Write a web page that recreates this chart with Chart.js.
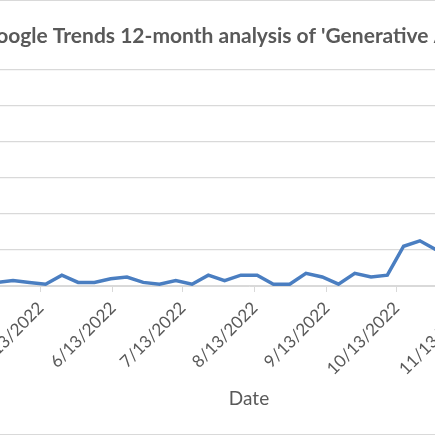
<!DOCTYPE html>
<html>
<head>
<meta charset="utf-8">
<script src="https://cdn.jsdelivr.net/npm/chart.js@4"></script>
<style>
  html, body { margin: 0; padding: 0; background: #ffffff; overflow: hidden; width: 435px; height: 435px; }
  #frame { position: absolute; left: -241px; top: 0px; width: 920px; height: 433px; border: 1px solid #d9d9d9; background: #fff; }
  canvas { display: block; }
</style>
</head>
<body>
<div id="frame"><canvas id="c" width="920" height="433"></canvas></div>
<script>
// ---- data ----
const chartTitle = "Google Trends 12-month analysis of 'Generative AI'";
const xAxisTitle = "Date";
const weekDates = [
  '2/13/2022','2/20/2022','2/27/2022','3/6/2022','3/13/2022','3/20/2022','3/27/2022','4/3/2022',
  '4/10/2022','4/17/2022','4/24/2022','5/1/2022','5/8/2022','5/15/2022','5/22/2022','5/29/2022',
  '6/5/2022','6/12/2022','6/19/2022','6/26/2022','7/3/2022','7/10/2022','7/17/2022','7/24/2022',
  '7/31/2022','8/7/2022','8/14/2022','8/21/2022','8/28/2022','9/4/2022','9/11/2022','9/18/2022',
  '9/25/2022','10/2/2022','10/9/2022','10/16/2022','10/23/2022','10/30/2022','11/6/2022','11/13/2022',
  '11/20/2022','11/27/2022','12/4/2022','12/11/2022','12/18/2022','12/25/2022','1/1/2023','1/8/2023',
  '1/15/2023','1/22/2023','1/29/2023','2/5/2023'
];
const interest = [
  2, 3, 2, 1, 3, 2, 4, 2, 3, 2,
  2, 3, 2, 1, 6, 2, 2, 4, 5, 2,
  1, 3, 1, 6, 3, 6, 6, 1, 1, 7,
  5, 1, 7, 5, 6, 22, 25, 20, 19, 21,
  23, 27, 30, 45, 52, 58, 55, 62, 70, 78,
  88, 100
];
const tickDates = [
  '2/13/2022','3/13/2022','4/13/2022','5/13/2022','6/13/2022','7/13/2022',
  '8/13/2022','9/13/2022','10/13/2022','11/13/2022','12/13/2022','1/13/2023'
];
const yMin = 0, yMax = 120, yStep = 20;

// ---- helpers ----
function dayNum(s) {
  const p = s.split('/').map(Number);
  return Math.round(Date.UTC(p[2], p[0] - 1, p[1]) / 86400000);
}
const day0 = dayNum(weekDates[0]);
const points = weekDates.map((d, i) => ({ x: dayNum(d) - day0, y: interest[i] }));
const tickVals = tickDates.map(d => dayNum(d) - day0);
const tickLabelOf = {};
tickDates.forEach((d, i) => { tickLabelOf[tickVals[i]] = d; });

const grey = '#595959';
const gridC = '#d9d9d9';
const FONT = "Lato, 'Open Sans', sans-serif";

new Chart(document.getElementById('c'), {
  type: 'line',
  data: {
    datasets: [{
      data: points,
      borderColor: '#4a7ec1',
      borderWidth: 3.5,
      pointRadius: 0,
      tension: 0,
      fill: false
    }]
  },
  options: {
    responsive: false,
    animation: false,
    devicePixelRatio: 1,
    layout: { padding: { left: 16, right: 16, top: 0, bottom: 23 } },
    plugins: {
      legend: { display: false },
      tooltip: { enabled: false },
      title: {
        display: true,
        text: chartTitle,
        color: grey,
        font: { family: FONT, size: 21, weight: 'bold' },
        padding: { top: 23, bottom: 20 }
      }
    },
    scales: {
      x: {
        type: 'linear',
        min: 0,
        max: dayNum(weekDates[weekDates.length - 1]) - day0,
        afterBuildTicks: (s) => { s.ticks = tickVals.map(v => ({ value: v })); },
        afterFit: (s) => { s.height = 125; },
        ticks: {
          autoSkip: false,
          minRotation: 45,
          maxRotation: 45,
          color: grey,
          font: { family: FONT, size: 17 },
          padding: 6,
          callback: (v) => tickLabelOf[v] || ''
        },
        grid: { drawOnChartArea: false, drawTicks: true, tickLength: 6, color: gridC },
        border: { display: true, color: gridC, width: 1 },
        title: {
          display: true,
          text: xAxisTitle,
          color: grey,
          font: { family: FONT, size: 19 },
          padding: { top: 0, bottom: 0.5 }
        }
      },
      y: {
        min: yMin,
        max: yMax,
        afterFit: (s) => { s.width = 58; },
        ticks: { stepSize: yStep, color: grey, font: { family: FONT, size: 17 }, padding: 8 },
        grid: { color: gridC, drawTicks: false, lineWidth: 1.3 },
        border: { display: false }
      }
    }
  }
});
</script>
</body>
</html>
